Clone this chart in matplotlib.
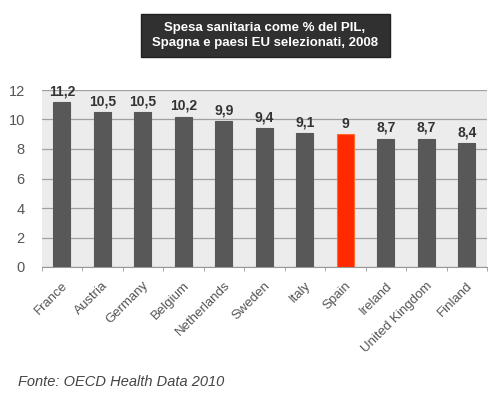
import matplotlib
matplotlib.use("Agg")
import matplotlib.pyplot as plt
from matplotlib.patches import FancyBboxPatch

countries = ["France", "Austria", "Germany", "Belgium", "Netherlands", "Sweden",
             "Italy", "Spain", "Ireland", "United Kingdom", "Finland"]
values = [11.2, 10.5, 10.5, 10.2, 9.9, 9.4, 9.1, 9.0, 8.7, 8.7, 8.4]
value_labels = ["11,2", "10,5", "10,5", "10,2", "9,9", "9,4", "9,1", "9", "8,7", "8,7", "8,4"]
highlight = "Spain"

plt.rcParams['font.family'] = ['Liberation Sans', 'DejaVu Sans']

fig = plt.figure(figsize=(4.93, 4.01), dpi=100)
fig.patch.set_facecolor("white")
ax = fig.add_axes([41.5/493, 1 - 267/401, (487 - 41.5)/493, (267 - 90)/401])
ax.set_facecolor("#ececec")

colors = ["#ff2a00" if c == highlight else "#585858" for c in countries]
edges = ["#ff6a30" if c == highlight else "#585858" for c in countries]
x = list(range(len(countries)))
bars = ax.bar(x, values, width=0.42, color=colors, edgecolor=edges, linewidth=0.8, zorder=3)

for xi, v, lab in zip(x, values, value_labels):
    ax.text(xi, v + 0.25, lab, ha="center", va="bottom", fontsize=10,
            fontweight="bold", color="#333333", zorder=4)

ax.set_xlim(-0.5, len(countries) - 0.5)
ax.set_ylim(0, 12)
ax.set_yticks(range(0, 13, 2))
ax.yaxis.grid(True, color="#a0a0a0", linewidth=0.9, zorder=1)
ax.set_axisbelow(True)
ax.tick_params(axis="y", length=0, labelsize=10.5, labelcolor="#555555", pad=12)

ax.set_xticks(x)
ax.set_xticklabels(countries, rotation=45, ha="right", rotation_mode="anchor",
                   fontsize=9.5, color="#555555")
ax.tick_params(axis="x", length=0, pad=9)
ax.set_xticks([i + 0.5 for i in range(-1, len(countries))], minor=True)
ax.tick_params(axis="x", which="minor", length=3, color="#999999", direction="out")

for s in ["top", "right", "left"]:
    ax.spines[s].set_visible(False)
ax.spines["bottom"].set_color("#999999")

# title box
box = FancyBboxPatch((141/493, 1 - 57/401), (390 - 141)/493, (57 - 14)/401,
                     boxstyle="square,pad=0", transform=fig.transFigure,
                     facecolor="#303030", edgecolor="#202020", linewidth=1)
fig.patches.append(box)
fig.text(265/493, 1 - 35.5/401,
         "Spesa sanitaria come % del PIL,\nSpagna e paesi EU selezionati, 2008",
         ha="center", va="center", color="white", fontsize=9.5, fontweight="bold",
         linespacing=1.3)

fig.text(18/493, 1 - 382/401, "Fonte: OECD Health Data 2010", ha="left", va="center",
         fontsize=10.5, style="italic", color="#444444")

fig.savefig("out.png", dpi=100)
